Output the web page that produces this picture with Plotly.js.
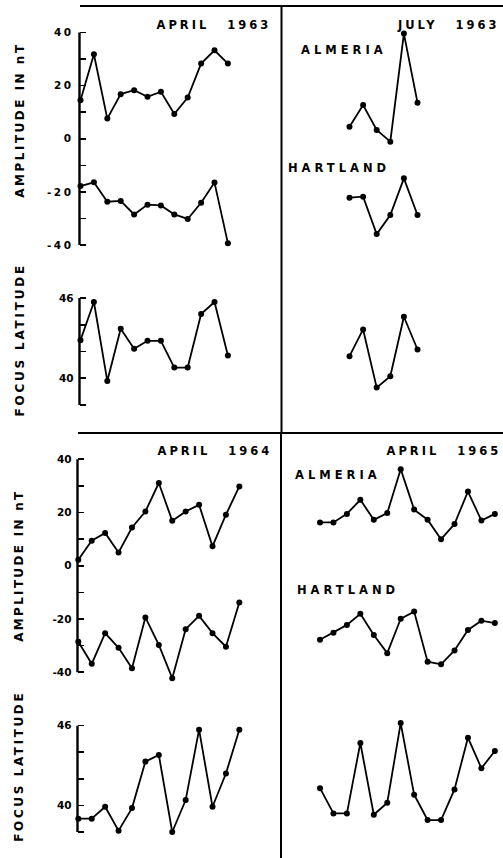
<!DOCTYPE html>
<html>
<head>
<meta charset="utf-8">
<script src="https://cdn.plot.ly/plotly-3.0.1.min.js"></script>
<style>
  html, body { margin: 0; padding: 0; background: #fff; }
  #chart { width: 503px; height: 858px; }
</style>
</head>
<body>
<div id="chart"></div>
<script>
// ---------------- DATA ----------------
// April 1963
const almeria1963Apr  = [14.5, 31.8, 7.6, 16.8, 18.3, 15.8, 17.7, 9.3, 15.5, 28.3, 33.3, 28.3];
const hartland1963Apr = [-17.8, -16.4, -23.7, -23.4, -28.5, -24.8, -25.1, -28.5, -30.2, -24.1, -16.5, -39.3];
const focus1963Apr    = [42.85, 45.7, 39.8, 43.7, 42.2, 42.8, 42.8, 40.8, 40.8, 44.8, 45.7, 41.7];
// July 1963
const almeria1963Jul  = [4.5, 12.7, 3.3, -1.1, 39.6, 13.6];
const hartland1963Jul = [-22.2, -21.8, -35.9, -28.7, -14.9, -28.7];
const focus1963Jul    = [41.65, 43.65, 39.3, 40.15, 44.6, 42.15];
// April 1964
const almeria1964Apr  = [2.3, 9.4, 12.3, 5.0, 14.4, 20.4, 31.1, 16.9, 20.4, 22.9, 7.3, 19.2, 29.8];
const hartland1964Apr = [-28.5, -36.8, -25.3, -30.8, -38.5, -19.4, -29.7, -42.2, -23.8, -18.8, -25.3, -30.4, -13.8];
const focus1964Apr    = [39.0, 39.0, 39.9, 38.1, 39.8, 43.3, 43.8, 38.0, 40.4, 45.7, 39.9, 42.4, 45.7];
// April 1965
const almeria1965Apr  = [16.3, 16.3, 19.5, 24.8, 17.3, 19.8, 36.3, 21.1, 17.3, 10.0, 15.7, 27.9, 17.0, 19.5];
const hartland1965Apr = [-27.8, -25.1, -22.2, -18.0, -26.0, -32.8, -19.9, -17.2, -36.0, -37.0, -31.8, -24.1, -20.6, -21.5];
const focus1965Apr    = [41.3, 39.4, 39.4, 44.7, 39.3, 40.2, 46.2, 40.8, 38.9, 38.9, 41.2, 45.1, 42.8, 44.1];

// Tick labels
const ampTickVals   = [-40, -30, -20, -10, 0, 10, 20, 30, 40];
const ampTickText   = ['-40', '', '-20', '', '0', '', '20', '', '40'];
const focusTickVals = [38, 40, 42, 44, 46];
const focusTickText = ['', '40', '', '', '46'];

// Text labels
const panelTitles  = ['APRIL 1963', 'JULY 1963', 'APRIL 1964', 'APRIL 1965'];
const stationNames = ['ALMERIA', 'HARTLAND'];
const ampTitle   = 'AMPLITUDE IN nT';
const focusTitle = 'FOCUS LATITUDE';

// ---------------- LAYOUT HELPERS ----------------
const W = 503, H = 858;
const fx = p => p / W;
const fy = p => 1 - p / H;
const idx = arr => arr.map((_, i) => i);

function xAxis(d0, d1, p0, s) {
  return {
    domain: [fx(d0), fx(d1)],
    range: [(d0 - p0) / s, (d1 - p0) / s],
    visible: false, fixedrange: true
  };
}
function yAxis(pTop, pBot, vTop, vBot, rTop, rBot, anchor, tv, tt) {
  const k = (pBot - pTop) / (vTop - vBot);
  const top = pTop - (rTop - vTop) * k;
  const bot = pBot + (vBot - rBot) * k;
  return {
    domain: [fy(bot), fy(top)],
    range: [rBot, rTop],
    anchor: anchor,
    showline: false, showgrid: false, zeroline: false,
    ticks: 'inside', ticklen: 6, tickwidth: 1.6, tickcolor: '#000',
    tickvals: tv, ticktext: tt,
    ticklabelstandoff: 5,
    tickfont: { family: 'DejaVu Sans', size: 10.5, weight: 'bold', color: '#000' },
    fixedrange: true
  };
}

const lineStyle = { color: '#000', width: 1.8 };
const markerStyle = { color: '#000', size: 6, symbol: 'circle' };
function tr(y, xa, ya) {
  return {
    x: idx(y), y: y, xaxis: xa, yaxis: ya,
    type: 'scatter', mode: 'lines+markers',
    line: lineStyle, marker: markerStyle, cliponaxis: false,
    hoverinfo: 'skip', showlegend: false
  };
}

const data = [
  tr(almeria1963Apr, 'x', 'y'), tr(hartland1963Apr, 'x', 'y'), tr(focus1963Apr, 'x', 'y2'),
  tr(almeria1963Jul, 'x2', 'y'), tr(hartland1963Jul, 'x2', 'y'), tr(focus1963Jul, 'x2', 'y2'),
  tr(almeria1964Apr, 'x3', 'y3'), tr(hartland1964Apr, 'x3', 'y3'), tr(focus1964Apr, 'x3', 'y4'),
  tr(almeria1965Apr, 'x4', 'y3'), tr(hartland1965Apr, 'x4', 'y3'), tr(focus1965Apr, 'x4', 'y4')
];

const txtFont = (size) => ({ family: 'DejaVu Sans', size: size, weight: 'bold', color: '#000' });
function ann(text, cx, cy, size, angle) {
  return {
    text: text, xref: 'paper', yref: 'paper', x: fx(cx), y: fy(cy),
    xanchor: 'center', yanchor: 'middle', showarrow: false,
    font: txtFont(size), textangle: angle || 0
  };
}
const annotations = [
  ann(panelTitles[0], 214, 25, 11.5),
  ann(panelTitles[1], 448, 25, 11.5),
  ann(panelTitles[2], 214.5, 451, 11.5),
  ann(panelTitles[3], 443.5, 451, 11.5),
  ann(stationNames[0], 344, 50, 11.5),
  ann(stationNames[1], 339, 168, 11.5),
  ann(stationNames[0], 338, 475, 11.5),
  ann(stationNames[1], 347.5, 590, 11.5),
  ann(ampTitle, 20, 120, 12, -90),
  ann(focusTitle, 20, 340, 12, -90),
  ann(ampTitle, 18.5, 565, 12, -90),
  ann(focusTitle, 18.5, 766, 12, -90)
];
const letterSpacing = [3, 3, 3, 3, 4, 4, 4, 4, 2.5, 2.8, 2.3, 2.6];
const wordSpacing   = [11, 11, 11, 11, 0, 0, 0, 0, 0, 0, 0, 0];

function pline(x0, y0, x1, y1) {
  return { type: 'line', xref: 'paper', yref: 'paper', x0: fx(x0), y0: fy(y0), x1: fx(x1), y1: fy(y1),
           line: { color: '#000', width: 2 } };
}
function axLine(xpx, yref, v0, v1) {
  return { type: 'line', xref: 'paper', yref: yref, x0: fx(xpx), x1: fx(xpx), y0: v0, y1: v1,
           line: { color: '#000', width: 2.4 } };
}

const layout = {
  width: W, height: H,
  margin: { l: 0, r: 0, t: 0, b: 0, pad: 0 },
  paper_bgcolor: '#fff', plot_bgcolor: 'rgba(0,0,0,0)',
  showlegend: false,
  xaxis:  xAxis(79.5, 281.5, 80.5, 13.4),
  xaxis2: xAxis(281.5, 503, 349.5, 13.6),
  xaxis3: xAxis(77.5, 281, 78.3, 13.42),
  xaxis4: xAxis(281.5, 503, 320, 13.45),
  yaxis:  yAxis(32.5, 245, 40, -40, 45, -45, 'x', ampTickVals, ampTickText),
  yaxis2: yAxis(298, 405, 46, 38, 46.5, 37.5, 'x', focusTickVals, focusTickText),
  yaxis3: yAxis(459.3, 672.3, 40, -40, 45, -45, 'x3', ampTickVals, ampTickText),
  yaxis4: yAxis(725.7, 832, 46, 38, 46.5, 37.5, 'x3', focusTickVals, focusTickText),
  annotations: annotations,
  shapes: [
    pline(80, 6, 503, 6),
    pline(281.5, 6, 281.5, 433),
    pline(78, 433, 503, 433),
    pline(281, 433, 281, 858),
    axLine(79.5, 'y', -40, 40),
    axLine(79.5, 'y2', 38, 46),
    axLine(77.5, 'y3', -40, 40),
    axLine(77.5, 'y4', 38, 46)
  ]
};

Plotly.newPlot('chart', data, layout, { staticPlot: true, displayModeBar: false }).then(gd => {
  gd.querySelectorAll('g.annotation').forEach(g => {
    const i = +g.getAttribute('data-index');
    const t = g.querySelector('text');
    if (t && !isNaN(i)) {
      t.style.letterSpacing = letterSpacing[i] + 'px';
      if (wordSpacing[i]) t.style.wordSpacing = wordSpacing[i] + 'px';
    }
  });
  gd.querySelectorAll('.ytick text').forEach(t => { t.style.letterSpacing = '2.5px'; });
});
</script>
</body>
</html>
